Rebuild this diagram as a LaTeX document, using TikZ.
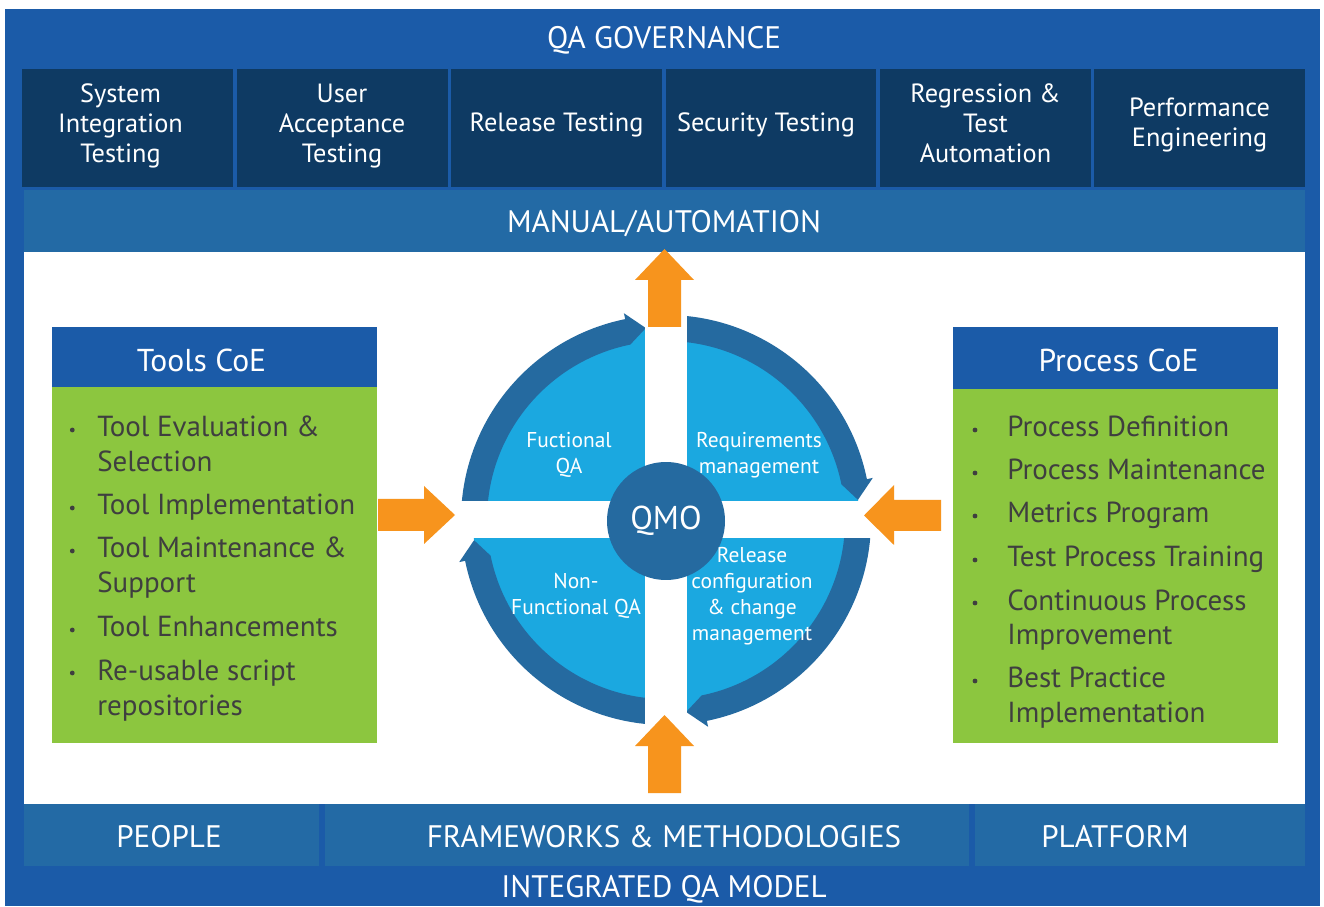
\documentclass[tikz,border=0pt]{standalone}
\usepackage{fontspec}
\setmainfont{PT Sans}
\usetikzlibrary{calc}
\definecolor{outerblue}{HTML}{1B5BA8}
\definecolor{navy}{HTML}{0E3A63}
\definecolor{bandblue}{HTML}{236AA5}
\definecolor{ringblue}{HTML}{256AA0}
\definecolor{lightblue}{HTML}{1BA8E0}
\definecolor{leaf}{HTML}{8CC63F}
\definecolor{orng}{HTML}{F7941D}
\definecolor{txtgray}{HTML}{3F3F3F}
\begin{document}
\begin{tikzpicture}[x=0.02cm,y=0.02cm,
  titletext/.style={text=white,inner sep=0pt,font=\fontsize{17.7}{20}\selectfont},
  toptext/.style={text=white,inner sep=0pt,align=center,font=\fontsize{15}{17.1}\selectfont},
  hdrtext/.style={text=white,inner sep=0pt,font=\fontsize{18}{20}\selectfont},
  itemtext/.style={text=txtgray,inner sep=0pt,anchor=base west,font=\fontsize{16.5}{19.9}\selectfont},
  quadtext/.style={text=white,inner sep=0pt,align=center,font=\fontsize{12.2}{14.8}\selectfont},
  bul/.style={fill=txtgray},
  arrowfill/.style={fill=orng}]
\useasboundingbox (0,0) rectangle (1324,906);
\fill[white] (0,0) rectangle (1324,906);
\fill[outerblue] (5,0) rectangle (1320,897);
% title
\node[titletext] (gov) at (664,866) {QA GOVERNANCE};
% top boxes
\foreach \a/\b in {22/233,237/448,451/662,666/876,880/1091,1094/1305}{
  \fill[navy] (\a,719) rectangle (\b,837);
}
\node[toptext] (sit) at (120.5,780) {System\\Integration\\Testing};
\node[toptext] (uat) at (342,780) {User\\Acceptance\\Testing};
\node[toptext] (rt) at (556.5,781) {Release Testing};
\node[toptext] (st) at (766,781) {Security Testing};
\node[toptext] (rta) at (985.5,783) {Regression \&\\Test\\Automation};
\node[toptext] (pe) at (1199.5,781) {Performance\\Engineering};
% manual band
\fill[bandblue] (24,654) rectangle (1305,716);
\node[titletext] (man) at (664,682) {MANUAL/AUTOMATION};
% white area
\fill[white] (24,102) rectangle (1305,654);
% bottom bands
\fill[bandblue] (24,40) rectangle (319,102);
\fill[bandblue] (325,40) rectangle (969,102);
\fill[bandblue] (975,40) rectangle (1305,102);
\node[titletext] (ppl) at (169,69) {PEOPLE};
\node[titletext] (fw) at (664,69) {FRAMEWORKS \& METHODOLOGIES};
\node[titletext] (plat) at (1115,69) {PLATFORM};
\node[titletext] (iqm) at (664,17) {INTEGRATED QA MODEL};
% Tools CoE
\fill[outerblue] (52,519) rectangle (377,579);
\fill[leaf] (52,163) rectangle (377,519);
\node[hdrtext] (tools) at (201.5,546) {Tools CoE};
\foreach \y in {469,391,348,269,226}{\fill[bul] (72.3,\y+7) circle[radius=2.4];}
\node[itemtext] (ta1) at (97,469) {Tool Evaluation \&};
\node[itemtext] (ta2) at (97,434) {Selection};
\node[itemtext] (tb) at (97,391) {Tool Implementation};
\node[itemtext] (tc1) at (97,348) {Tool Maintenance \&};
\node[itemtext] (tc2) at (97,313) {Support};
\node[itemtext] (td) at (97,269) {Tool Enhancements};
\node[itemtext] (te1) at (97,226) {Re-usable script};
\node[itemtext] (te2) at (97,191) {repositories};
% Process CoE
\fill[outerblue] (953,517) rectangle (1278,579);
\fill[leaf] (953,163) rectangle (1278,517);
\node[hdrtext] (proc) at (1118.5,546) {Process CoE};
\foreach \y in {469,426,383,339,296,218}{\fill[bul] (975,\y+7) circle[radius=2.4];}
\node[itemtext] (pa) at (1007,469) {Process Definition};
\node[itemtext] (pb) at (1007,426) {Process Maintenance};
\node[itemtext] (pc) at (1007,383) {Metrics Program};
\node[itemtext] (pd) at (1007,339) {Test Process Training};
\node[itemtext] (pe1) at (1007,296) {Continuous Process};
\node[itemtext] (pe2) at (1007,261) {Improvement};
\node[itemtext] (pf1) at (1007,218) {Best Practice};
\node[itemtext] (pf2) at (1007,184) {Implementation};
% central wheel
\begin{scope}[shift={(666,386)}]
  \fill[lightblue] (0,0) circle[radius=193];
  \foreach \s in {180,90,0,-90}{
    \pgfmathsetmacro\bb{\s-78.5}
    \pgfmathsetmacro\tt{\s-84}
    \fill[ringblue] (\s:205) arc[start angle=\s,end angle=\bb,radius=205]
      -- (\bb:211) -- (\tt:193) -- (\bb:179)
      arc[start angle=\bb,end angle=\s,radius=179] -- cycle;
  }
  \fill[white] (-21,-216) rectangle (21,216);
  \fill[white] (-216,-18) rectangle (216,19);
\end{scope}
\node[circle,fill=ringblue,minimum size=2.36cm,inner sep=0pt,text=white,font=\fontsize{18.8}{20}\selectfont] (qmo) at (666,385) {QMO};
\node[quadtext] (fqa) at (569,451) {Fuctional\\QA};
\node[quadtext] (req) at (759,451) {Requirements\\management};
\node[quadtext] (nfqa) at (576,310) {Non-\\Functional QA};
\node[quadtext] (rel) at (752,309.5) {Release\\configuration\\\& change\\management};
% orange arrows
\fill[arrowfill] (378,375) -- (424,375) -- (424,362) -- (455,391) -- (424,420) -- (424,407) -- (378,407) -- cycle;
\fill[arrowfill] (941,375) -- (894,375) -- (894,361) -- (864,390.5) -- (894,421) -- (894,406) -- (941,406) -- cycle;
\fill[arrowfill] (648,579) -- (681,579) -- (681,626) -- (694,626) -- (664.5,657) -- (635,626) -- (648,626) -- cycle;
\fill[arrowfill] (648,113) -- (681,113) -- (681,160) -- (694,160) -- (664.5,191) -- (635,160) -- (648,160) -- cycle;
\end{tikzpicture}
\end{document}
